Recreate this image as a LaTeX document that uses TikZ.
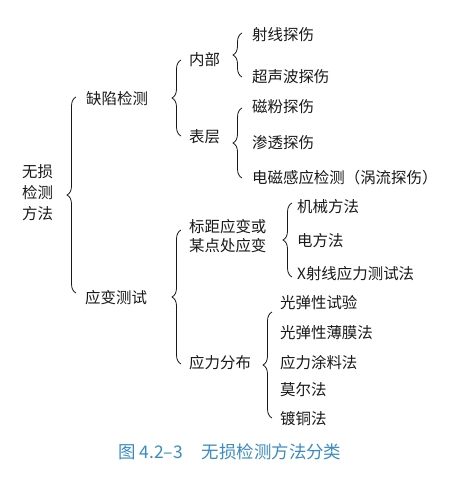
\documentclass[tikz,border=0pt]{standalone}
\usepackage{fontspec}
\newfontfamily\cjk{Noto Sans CJK SC}
\usetikzlibrary{decorations.pathreplacing}
\definecolor{captblue}{RGB}{58,140,196}
\definecolor{ink}{RGB}{25,25,25}
\tikzset{
  lbl/.style={anchor=west,inner sep=0pt,font=\cjk\fontsize{15.5}{20}\selectfont,text=ink},
  brc/.style={draw=ink,line width=0.8pt,decorate,decoration={brace,amplitude=9pt,aspect=0.5}},
}
\begin{document}
\begin{tikzpicture}[x=1bp,y=-1bp]
\useasboundingbox[fill=white] (0,0) rectangle (457,477);
% nodes
\node[lbl,align=left,font=\cjk\fontsize{15.5}{21}\selectfont] (root) at (22,193) {无损\\检测\\方法};
\node[lbl] (qx) at (86,99) {缺陷检测};
\node[lbl] (yb) at (85,298) {应变测试};
\node[lbl] (nb) at (189,60) {内部};
\node[lbl] (bc) at (189,137) {表层};
\node[lbl] (sx) at (252,35) {射线探伤};
\node[lbl] (csb) at (252,77) {超声波探伤};
\node[lbl] (cf) at (252,107) {磁粉探伤};
\node[lbl] (st) at (252,143) {渗透探伤};
\node[lbl] (dc) at (252,178) {电磁感应检测（涡流探伤）};
\node[lbl,align=left,font=\cjk\fontsize{15.5}{19.5}\selectfont] (bj) at (189,236) {标距应变或\\某点处应变};
\node[lbl] (jx) at (297,207) {机械方法};
\node[lbl] (df) at (297,241) {电方法};
\node[lbl] (xs) at (297,274) {X射线应力测试法};
\node[lbl] (ylfb) at (189,363) {应力分布};
\node[lbl] (gt) at (280,303) {光弹性试验};
\node[lbl] (gm) at (280,333) {光弹性薄膜法};
\node[lbl] (tl) at (280,363) {应力涂料法};
\node[lbl] (me) at (280,390) {莫尔法};
\node[lbl] (dt) at (280,419) {镀铜法};
\node[anchor=west,inner sep=0pt,text=captblue,font=\cjk\fontsize{17.5}{20}\selectfont] (cap) at (118,452) {图 4.2–3\hspace{1.1em}无损检测方法分类};
% brace end points
\coordinate (b1t) at (76,97);   \coordinate (b1b) at (76,293);
\coordinate (b2t) at (181,60);  \coordinate (b2b) at (181,136);
\coordinate (b3t) at (242,33);  \coordinate (b3b) at (242,77);
\coordinate (b4t) at (242,108); \coordinate (b4b) at (242,178);
\coordinate (b5t) at (181,230); \coordinate (b5b) at (181,364);
\coordinate (b6t) at (292,203); \coordinate (b6b) at (292,277);
\coordinate (b7t) at (272,312); \coordinate (b7b) at (272,418);
% braces
\draw[brc] (b1b) -- (b1t);
\draw[brc] (b2b) -- (b2t);
\draw[brc] (b3b) -- (b3t);
\draw[brc] (b4b) -- (b4t);
\draw[brc] (b5b) -- (b5t);
\draw[brc] (b6b) -- (b6t);
\draw[brc] (b7b) -- (b7t);
\end{tikzpicture}
\end{document}
